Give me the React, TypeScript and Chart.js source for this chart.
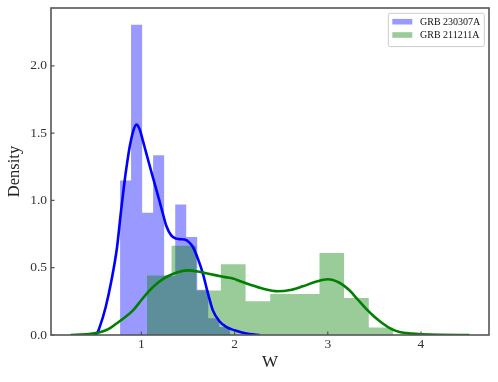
import React, { useEffect, useRef } from "react";
import { Chart, registerables } from "chart.js";

Chart.register(...registerables);

const blueLabel = "GRB 230307A";
const greenLabel = "GRB 211211A";

// Histogram bins (edges) and densities
const blueBinEdges = [0.771, 0.889, 1.008, 1.126, 1.244, 1.363, 1.481, 1.599, 1.717, 1.836, 1.954];
const blueDensity = [1.149, 2.306, 0.909, 1.335, 0.44, 0.969, 0.728, 0.337, 0.125, 0.06];
const greenBinEdges = [1.06, 1.324, 1.589, 1.853, 2.118, 2.382, 2.646, 2.911, 3.175, 3.44, 3.704];
const greenDensity = [0.443, 0.664, 0.33, 0.525, 0.25, 0.305, 0.305, 0.61, 0.275, 0.055];

// KDE curves
const blueKdeX = [0.46, 0.52, 0.553, 0.617, 0.679, 0.739, 0.778, 0.80, 0.821, 0.845, 0.875, 0.91, 0.946, 0.98, 1.01, 1.043, 1.08, 1.124, 1.16, 1.196, 1.235, 1.268, 1.32, 1.375, 1.42, 1.464, 1.51, 1.553, 1.61, 1.66, 1.71, 1.767, 1.84, 1.91, 2.0, 2.08, 2.16, 2.27];
const blueKdeY = [0.0, 0.01, 0.06, 0.208, 0.406, 0.654, 0.9, 1.03, 1.15, 1.27, 1.4, 1.51, 1.563, 1.53, 1.46, 1.375, 1.28, 1.17, 1.08, 0.99, 0.89, 0.81, 0.74, 0.716, 0.712, 0.709, 0.69, 0.654, 0.56, 0.456, 0.32, 0.183, 0.1, 0.06, 0.035, 0.018, 0.008, 0.0];
const greenKdeX = [0.24, 0.4, 0.553, 0.65, 0.732, 0.82, 0.91, 1.0, 1.089, 1.18, 1.268, 1.38, 1.5, 1.62, 1.72, 1.804, 1.9, 1.982, 2.06, 2.16, 2.3, 2.464, 2.6, 2.732, 2.87, 3.0, 3.12, 3.232, 3.32, 3.41, 3.5, 3.59, 3.68, 3.77, 3.9, 4.0, 4.2, 4.52];
const greenKdeY = [0.0, 0.005, 0.02, 0.045, 0.085, 0.13, 0.183, 0.26, 0.332, 0.39, 0.431, 0.465, 0.48, 0.47, 0.455, 0.443, 0.43, 0.419, 0.4, 0.376, 0.345, 0.325, 0.335, 0.362, 0.395, 0.414, 0.39, 0.332, 0.265, 0.196, 0.135, 0.085, 0.045, 0.022, 0.01, 0.005, 0.001, 0.0];

const xTicks = [1, 2, 3, 4];
const yTicks = [0, 0.5, 1.0, 1.5, 2.0];
const xRange = [0.03, 4.73];
const yRange = [0, 2.43];

const xTitle = "W";
const yTitle = "Density";

const FONT = "'Liberation Serif', 'Times New Roman', serif";

function histPoints(edges: number[], dens: number[]) {
  return edges.map((e, i) => ({ x: e, y: dens[Math.min(i, dens.length - 1)] }));
}
function curvePoints(xs: number[], ys: number[]) {
  return xs.map((x, i) => ({ x, y: ys[i] }));
}

const framePlugin = {
  id: "frame",
  afterDatasetsDraw(chart: any) {
    const { ctx, chartArea: a, scales } = chart;
    ctx.save();
    ctx.strokeStyle = "#555";
    ctx.lineWidth = 1.2;
    ctx.beginPath();
    for (const v of xTicks) {
      const px = scales.x.getPixelForValue(v);
      ctx.moveTo(px, a.bottom);
      ctx.lineTo(px, a.bottom - 3.5);
    }
    for (const v of yTicks) {
      const py = scales.y.getPixelForValue(v);
      ctx.moveTo(a.left, py);
      ctx.lineTo(a.left + 3.5, py);
    }
    ctx.stroke();
    ctx.lineWidth = 1.6;
    ctx.strokeRect(a.left, a.top, a.right - a.left, a.bottom - a.top);

    // legend (inside, upper right)
    const entries = chart.data.datasets.filter((d: any) => d.isHist);
    ctx.font = `10px ${FONT}`;
    const textW = Math.max(...entries.map((d: any) => ctx.measureText(d.label).width));
    const pad = 4;
    const sw = 20;
    const gap = 7.7;
    const rowH = 13.3;
    const boxW = pad + sw + gap + textW + pad;
    const boxH = 2 * 4.5 + entries.length * rowH - 2.3;
    const bx = a.right - 4.7 - boxW;
    const by = a.top + 5.3;
    ctx.beginPath();
    const r = 2;
    ctx.moveTo(bx + r, by);
    ctx.lineTo(bx + boxW - r, by);
    ctx.quadraticCurveTo(bx + boxW, by, bx + boxW, by + r);
    ctx.lineTo(bx + boxW, by + boxH - r);
    ctx.quadraticCurveTo(bx + boxW, by + boxH, bx + boxW - r, by + boxH);
    ctx.lineTo(bx + r, by + boxH);
    ctx.quadraticCurveTo(bx, by + boxH, bx, by + boxH - r);
    ctx.lineTo(bx, by + r);
    ctx.quadraticCurveTo(bx, by, bx + r, by);
    ctx.closePath();
    ctx.fillStyle = "rgba(255,255,255,0.8)";
    ctx.fill();
    ctx.strokeStyle = "#cccccc";
    ctx.lineWidth = 1;
    ctx.stroke();
    entries.forEach((d: any, i: number) => {
      const cy = by + 8.4 + i * rowH;
      ctx.fillStyle = d.backgroundColor;
      ctx.fillRect(bx + pad, cy - 2.8, sw, 5.6);
      ctx.fillStyle = "#111";
      ctx.textAlign = "left";
      ctx.textBaseline = "middle";
      ctx.fillText(d.label, bx + pad + sw + gap, cy + 0.5);
    });
    ctx.restore();
  },
};

export default function App() {
  const ref = useRef<HTMLCanvasElement | null>(null);
  useEffect(() => {
    if (!ref.current) return;
    const chart = new Chart(ref.current, {
      type: "line",
      data: {
        datasets: [
          {
            label: blueLabel,
            isHist: true,
            data: histPoints(blueBinEdges, blueDensity),
            stepped: "before",
            fill: "origin",
            backgroundColor: "rgba(0,0,255,0.4)",
            borderColor: "rgba(0,0,0,0)",
            borderWidth: 0,
            pointRadius: 0,
            order: 4,
          } as any,
          {
            label: greenLabel,
            isHist: true,
            data: histPoints(greenBinEdges, greenDensity),
            stepped: "before",
            fill: "origin",
            backgroundColor: "rgba(0,128,0,0.4)",
            borderColor: "rgba(0,0,0,0)",
            borderWidth: 0,
            pointRadius: 0,
            order: 3,
          } as any,
          {
            label: blueLabel + " KDE",
            data: curvePoints(blueKdeX, blueKdeY),
            borderColor: "#0000ff",
            borderWidth: 2.6,
            pointRadius: 0,
            fill: false,
            cubicInterpolationMode: "monotone",
            order: 2,
          },
          {
            label: greenLabel + " KDE",
            data: curvePoints(greenKdeX, greenKdeY),
            borderColor: "#008000",
            borderWidth: 2.6,
            pointRadius: 0,
            fill: false,
            cubicInterpolationMode: "monotone",
            order: 1,
          },
        ],
      },
      options: {
        responsive: false,
        animation: false,
        layout: { padding: { top: 8, right: 9, left: 0, bottom: 0 } },
        plugins: {
          legend: { display: false },
          tooltip: { enabled: false },
        },
        scales: {
          x: {
            type: "linear",
            min: xRange[0],
            max: xRange[1],
            grid: { display: false, drawTicks: false },
            border: { display: false },
            afterBuildTicks: (s: any) => {
              s.ticks = xTicks.map((v) => ({ value: v }));
            },
            afterFit: (s: any) => {
              s.height = 47;
              s.paddingLeft = 0;
              s.paddingRight = 0;
            },
            ticks: {
              autoSkip: false,
              maxRotation: 0,
              padding: 1,
              color: "#333",
              font: { family: FONT, size: 13.5 },
              callback: (v: any) => String(v),
            },
            title: {
              display: true,
              text: xTitle,
              color: "#222",
              font: { family: FONT, size: 17 },
              padding: { top: 0, bottom: 9 },
            },
          },
          y: {
            type: "linear",
            min: yRange[0],
            max: yRange[1],
            grid: { display: false, drawTicks: false },
            border: { display: false },
            afterBuildTicks: (s: any) => {
              s.ticks = yTicks.map((v) => ({ value: v }));
            },
            afterFit: (s: any) => {
              s.width = 51;
              s.paddingTop = 0;
              s.paddingBottom = 0;
            },
            ticks: {
              autoSkip: false,
              padding: 4,
              color: "#333",
              font: { family: FONT, size: 13.5 },
              callback: (v: any) => Number(v).toFixed(1),
            },
            title: {
              display: true,
              text: yTitle,
              color: "#222",
              font: { family: FONT, size: 16.5 },
              padding: { top: 5, bottom: 0 },
            },
          },
        },
      } as any,
      plugins: [framePlugin],
    });
    return () => chart.destroy();
  }, []);
  return (
    <div style={{ position: "fixed", left: 0, top: 0, width: 498, height: 382, background: "#fff" }}>
      <canvas ref={ref} width={498} height={382} style={{ display: "block" }} />
    </div>
  );
}
